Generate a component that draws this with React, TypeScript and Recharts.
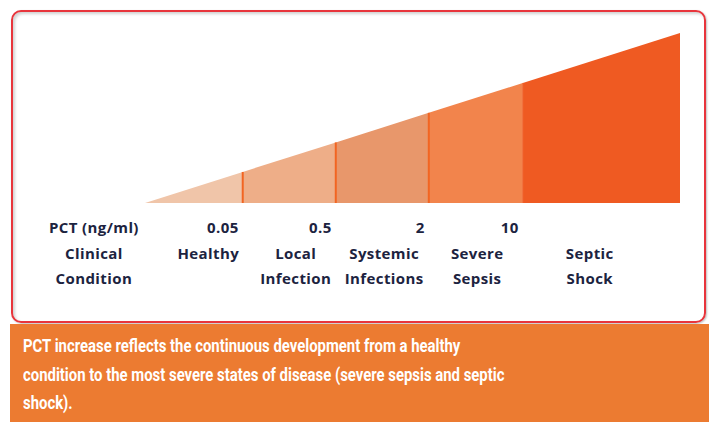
import React from 'react';
import { ComposedChart, Area, XAxis, YAxis, ReferenceLine } from 'recharts';

// ---- data ----
const stageBounds = [0, 1.05, 2.05, 3.05, 4.06, 5.75];
const pctValues = ['0.05', '0.5', '2', '10'];
const conditionLabels = [
  ['Healthy'],
  ['Local', 'Infection'],
  ['Systemic', 'Infections'],
  ['Severe', 'Sepsis'],
  ['Septic', 'Shock'],
];
const conditionCenters = [0.68, 1.62, 2.57, 3.57, 4.78];
const headerPos = -0.55;
const pctHeader = 'PCT (ng/ml)';
const conditionHeader = ['Clinical', 'Condition'];
const captionLines = [
  'PCT increase reflects the continuous development from a healthy',
  'condition to the most severe states of disease (severe sepsis and septic',
  'shock).',
];

// ---- styles ----
const segColors = ['#f0c5a9', '#eeae88', '#e8976b', '#f2844c', '#ef5a22'];
const dividerColor = '#f26522';
const textColor = '#1c2340';
const labelFont = "'Open Sans', Lato, sans-serif";
const labelStyle = { letterSpacing: '0.4px' };

const tableData = stageBounds.map((b, i) => {
  const row: any = { stage: b };
  if (i < stageBounds.length - 1) row[`s${i}`] = b;
  if (i > 0) row[`s${i - 1}`] = b;
  return row;
});

const ValueTick = (props: any) => {
  const { x, y, index } = props;
  if (index === 0) {
    return (
      <text x={x} y={y + 24} textAnchor="middle" dominantBaseline="central" fill={textColor}
        fontFamily={labelFont} fontWeight={700} fontSize={15} style={labelStyle}>{pctHeader}</text>
    );
  }
  return (
    <text x={x - 4} y={y + 24} textAnchor="end" dominantBaseline="central" fill={textColor}
      fontFamily={labelFont} fontWeight={700} fontSize={15} style={labelStyle}>{pctValues[index - 1]}</text>
  );
};

const CondTick = (props: any) => {
  const { x, y, index } = props;
  const lines = index === 0 ? conditionHeader : conditionLabels[index - 1];
  return (
    <g>
      {lines.map((l: string, k: number) => (
        <text key={k} x={x} y={y + 20 + k * 25} textAnchor="middle" dominantBaseline="central"
          fill={textColor} fontFamily={labelFont} fontWeight={700} fontSize={15} style={labelStyle}>{l}</text>
      ))}
    </g>
  );
};

export default function App() {
  return (
    <div style={{ position: 'fixed', left: 0, top: 0, width: 709, height: 422, background: '#fff', overflow: 'hidden' }}>
      <div style={{
        position: 'absolute', left: 11, top: 10, width: 695, height: 313, boxSizing: 'border-box',
        border: '2.5px solid #e8353c', borderRadius: 10,
        boxShadow: 'inset 2px 2px 3px rgba(0,0,0,0.18), 1px 1px 2px rgba(0,0,0,0.25)',
      }} />
      <div style={{ position: 'absolute', left: 0, top: 0 }}>
        <ComposedChart width={709} height={322} data={tableData}
          margin={{ top: 33, right: 29, left: 52, bottom: 29 }}>
          <YAxis hide type="number" domain={[0, 5.75]} allowDataOverflow />
          <XAxis dataKey="stage" type="number" domain={[-1, 5.75]} allowDataOverflow
            ticks={[headerPos, ...stageBounds.slice(1, 5)]} interval={0}
            axisLine={false} tickLine={false} tickSize={0} tickMargin={0} height={30} tick={<ValueTick />} />
          <XAxis xAxisId="cond" dataKey="stage" type="number" domain={[-1, 5.75]} allowDataOverflow
            ticks={[headerPos, ...conditionCenters]} interval={0}
            axisLine={false} tickLine={false} tickSize={0} tickMargin={0} height={60} tick={<CondTick />} />
          {segColors.map((c, i) => (
            <Area key={i} dataKey={`s${i}`} type="linear" stroke="none" fill={c} fillOpacity={1}
              isAnimationActive={false} dot={false} activeDot={false} connectNulls={false} />
          ))}
          {stageBounds.slice(1, 4).map((b, i) => (
            <ReferenceLine key={i} segment={[{ x: b, y: 0 }, { x: b, y: b }]} stroke={dividerColor} strokeWidth={2} />
          ))}
          <ReferenceLine segment={[{ x: stageBounds[4], y: 0 }, { x: stageBounds[4], y: stageBounds[4] }]}
            stroke="#f06a35" strokeWidth={1} />
        </ComposedChart>
      </div>
      <div style={{
        position: 'absolute', left: 10, top: 324, width: 699, height: 98, background: '#ec7b31',
        color: '#fff', boxSizing: 'border-box', padding: '8px 0 0 13px',
      }}>
        <div style={{
          fontFamily: "Roboto, sans-serif", fontWeight: 700, fontSize: 18, lineHeight: '28.5px',
          whiteSpace: 'nowrap', transform: 'scaleX(0.827)', transformOrigin: 'left top',
        }}>
          {captionLines.map((l, i) => <div key={i}>{l}</div>)}
        </div>
      </div>
    </div>
  );
}
